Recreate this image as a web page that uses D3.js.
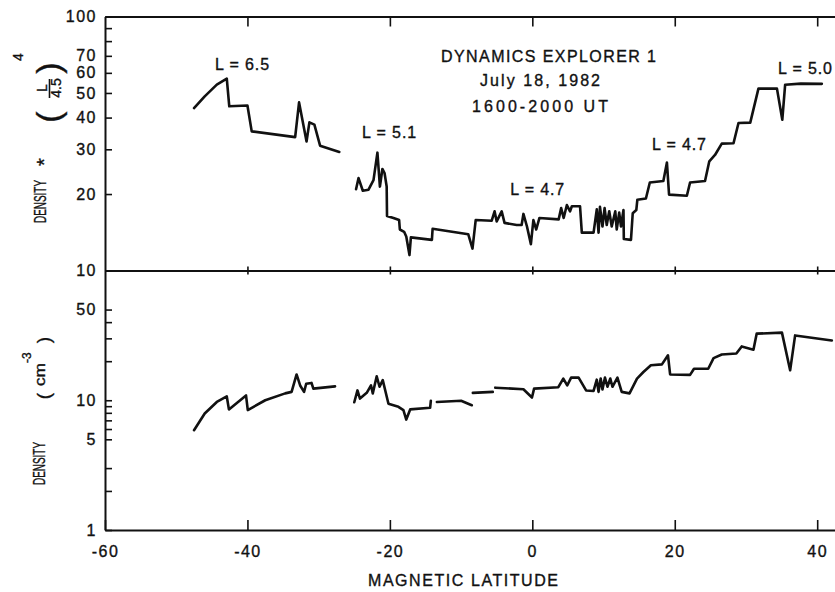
<!DOCTYPE html>
<meta charset="utf-8">
<style>
body { margin: 0; background: #fff; }
svg { font-family: "Liberation Sans", Arial, sans-serif; background: #fff; }
svg text { fill: #111; stroke: #111; stroke-width: 0.35px; }
.axis path, .axis line { stroke: #111; fill: none; }
.axis path { stroke-width: 2px; }
.axis line { stroke-width: 1.6px; }
.axis text { font-family: "Liberation Sans", Arial, sans-serif; font-size: 16px; letter-spacing: 1.5px; fill: #111; }
.trace { fill: none; stroke: #111; stroke-width: 2.6px; stroke-linejoin: round; stroke-linecap: round; }
.note { font-size: 16px; }
</style>
<body>
<script src="https://d3js.org/d3.v7.min.js"></script>
<script>

// magnetic latitude / normalised density (top panel); null = gap in trace
var topLat = [-47.5, -46.0, -44.3, -42.9, -42.55, -40.0, -39.4, -33.3, -32.75, -31.7, -31.3, -30.6, -29.8, -27.1,
  null,
  -24.75, -24.4, -23.8, -23.0, -22.3, -21.75, -21.4, -21.05, -20.75, -20.45, -20.4, -19.5, -18.7, -18.6, -18.0, -17.7,
  -17.25, -17.05, -14.1, -14.0, -9.0, -8.4, -7.95, -5.7, -5.3, -5.0, -4.3, -3.9, -2.2, -1.5, -1.25, -0.75, -0.2, 0.15,
  0.55, 1.0, 3.7, 4.05, 4.4, 4.85, 5.3, 5.55, 6.7, 6.95, 8.6, 9.05, 9.3, 9.5, 9.85, 10.15, 10.45, 10.8, 11.15, 11.65,
  11.85, 12.2, 12.45, 12.8, 12.85, 13.85, 14.1, 14.6, 14.75, 15.95, 16.5, 18.4, 18.9, 19.2, 21.7, 22.15, 24.25, 24.85,
  25.65, 26.6, 28.25, 28.95, 30.6, 31.75, 34.35, 35.1, 35.5, 37.7, 40.65];
var topDens = [43.6, 48.5, 53.9, 56.9, 44.3, 44.6, 35.3, 33.5, 45.9, 32.2, 38.3, 37.5, 31.0, 29.3,
  null,
  20.9, 23.1, 20.6, 20.8, 22.7, 29.1, 21.4, 25.1, 24.2, 21.4, 16.4, 16.1, 15.8, 14.5, 14.2, 13.6,
  11.5, 13.5, 13.2, 14.6, 13.9, 12.2, 15.8, 15.7, 17.1, 15.6, 17.1, 15.4, 15.1, 15.1, 16.7, 14.9, 12.7, 15.8,
  14.5, 16.1, 15.9, 17.6, 16.1, 18.1, 17.1, 17.9, 17.9, 14.1, 14.1, 17.4, 14.1, 17.8, 14.9, 17.6, 15.1, 17.1, 14.9, 17.1,
  14.5, 16.9, 14.9, 17.3, 13.3, 13.2, 16.8, 17.3, 19.0, 19.2, 22.2, 22.5, 26.6, 19.9, 19.7, 22.2, 22.5, 26.9,
  28.5, 31.6, 31.7, 38.1, 38.2, 52.0, 52.0, 39.2, 53.9, 54.4, 54.3];

// magnetic latitude / density in cm^-3 (bottom panel)
var botLat = [-47.5, -46.0, -44.3, -42.9, -42.6, -40.2, -39.95, -37.5, -34.7, -33.8, -33.1, -32.6, -32.05, -31.75,
  -31.0, -30.75, -27.7,
  null,
  -25.0, -24.55, -24.2, -23.25, -22.65, -22.4, -21.85, -21.45, -21.0, -20.2, -19.5, -18.8, -18.1, -17.7, -17.15,
  -14.35, -14.25,
  null,
  -13.4, -10.0, -8.5,
  null,
  -8.35, -5.55,
  null,
  -5.2, -1.25, -0.05, 0.25, 3.65, 4.35, 4.9, 5.45, 6.5, 7.55, 8.6, 9.05, 9.3, 9.6, 9.85, 10.2, 10.55, 10.95, 11.25,
  11.95, 12.55, 13.65, 14.7, 15.6, 16.65, 18.2, 19.05, 19.35, 22.15, 22.7, 24.7, 25.45, 26.6, 28.65, 29.4, 31.05,
  31.5, 35.05, 36.2, 36.9, 42.05];
var botDens = [5.88, 7.9, 9.7, 10.7, 8.5, 10.9, 8.4, 10.0, 11.3, 11.6, 15.8, 13.0, 11.6, 13.4,
  13.6, 12.3, 12.8,
  null,
  9.65, 11.9, 10.3, 11.4, 13.0, 11.3, 15.3, 12.7, 14.3, 9.4, 9.15, 8.9, 8.4, 7.1, 8.5,
  8.75, 9.9,
  null,
  9.7, 9.9, 9.15,
  null,
  11.4, 11.6,
  null,
  12.5, 12.15, 10.5, 12.3, 12.6, 14.7, 13.0, 14.95, 14.95, 11.9, 11.8, 14.4, 11.6, 14.7, 12.1, 14.95, 12.7, 14.7, 12.7,
  14.95, 11.6, 11.3, 14.7, 16.5, 18.6, 18.9, 22.2, 15.8, 15.7, 17.5, 17.5, 21.1, 22.5, 22.9, 26.0, 24.5,
  32.6, 33.2, 17.0, 31.6, 28.9];

var latTicks = [-60, -40, -20, 0, 20, 40];
var topTicks = [10, 20, 30, 40, 50, 60, 70, 80, 90, 100];
var topTickLabels = [10, 20, 30, 40, 50, 60, 70, 100];
var botTicks = [1, 2, 3, 5, 6, 7, 8, 9, 10, 20, 30, 40, 50];
var botTickLabels = [1, 5, 10, 50];

var titleLines = ["DYNAMICS EXPLORER 1", "July 18, 1982", "1600-2000 UT"];
var lLabels = [
  {text: "L = 6.5", lat: -44.55, val: 61.5},
  {text: "L = 5.1", lat: -23.9, val: 33.2},
  {text: "L = 4.7", lat: -3.1, val: 19.8},
  {text: "L = 4.7", lat: 16.8, val: 29.8},
  {text: "L = 5.0", lat: 34.5, val: 59.4}
];

var width = 835, height = 592;

var x = d3.scaleLinear().domain([-60, 42.5]).range([105, 835]);
var yTop = d3.scaleLog().domain([10, 100]).range([270.5, 16.5]);
var yBot = d3.scaleLog().domain([1, 100]).range([530, 270.5]);

var svg = d3.select("body").append("svg")
  .attr("width", width)
  .attr("height", height);

var fmtLat = function(d) { return d < 0 ? "-" + Math.abs(d) : String(d); };

// frame + ticks
svg.append("g").attr("class", "axis")
  .attr("transform", "translate(0," + yTop.range()[1] + ")")
  .call(d3.axisTop(x).tickValues(latTicks.slice(1)).tickSizeInner(-10).tickSizeOuter(0).tickFormat(""));

svg.append("g").attr("class", "axis")
  .attr("transform", "translate(0," + yTop.range()[0] + ")")
  .call(d3.axisBottom(x).tickValues(latTicks.slice(1)).tickSizeInner(4).tickSizeOuter(0).tickFormat(""));
svg.append("g").attr("class", "axis")
  .attr("transform", "translate(0," + yTop.range()[0] + ")")
  .call(d3.axisTop(x).tickValues(latTicks.slice(1)).tickSizeInner(4).tickSizeOuter(0).tickFormat(""));

svg.append("g").attr("class", "axis")
  .attr("transform", "translate(0," + yBot.range()[0] + ")")
  .call(d3.axisBottom(x).tickValues(latTicks).tickSizeInner(-10).tickSizeOuter(0).tickPadding(16).tickFormat(fmtLat));

svg.append("g").attr("class", "axis")
  .attr("transform", "translate(" + x.range()[0] + ",0)")
  .call(d3.axisLeft(yTop).tickValues(topTicks).tickSizeInner(-7).tickSizeOuter(0).tickPadding(8)
    .tickFormat(function(d) { return topTickLabels.indexOf(d) >= 0 ? d : ""; }));

svg.append("g").attr("class", "axis")
  .attr("transform", "translate(" + x.range()[0] + ",0)")
  .call(d3.axisLeft(yBot).tickValues(botTicks).tickSizeInner(-7).tickSizeOuter(0).tickPadding(8)
    .tickFormat(function(d) { return botTickLabels.indexOf(d) >= 0 ? d : ""; }));

// traces
var topPts = topLat.map(function(d, i) { return [d, topDens[i]]; });
var botPts = botLat.map(function(d, i) { return [d, botDens[i]]; });

var lineTop = d3.line()
  .defined(function(d) { return d[0] != null && d[1] != null; })
  .x(function(d) { return x(d[0]); })
  .y(function(d) { return yTop(d[1]); });

var lineBot = d3.line()
  .defined(function(d) { return d[0] != null && d[1] != null; })
  .x(function(d) { return x(d[0]); })
  .y(function(d) { return yBot(d[1]); });

svg.append("path").attr("class", "trace").attr("d", lineTop(topPts));
svg.append("path").attr("class", "trace").attr("d", lineBot(botPts));

// annotations
var titleX = [441, 480, 472], titleY = [62, 86, 112], titleW = [215, 120, 136];
titleLines.forEach(function(t, i) {
  svg.append("text").attr("class", "note")
    .attr("x", titleX[i]).attr("y", titleY[i])
    .attr("textLength", titleW[i]).attr("lengthAdjust", "spacing")
    .text(t);
});

lLabels.forEach(function(d) {
  svg.append("text").attr("class", "note")
    .attr("x", x(d.lat)).attr("y", yTop(d.val))
    .attr("textLength", 54).attr("lengthAdjust", "spacing")
    .text(d.text);
});

svg.append("text").attr("class", "note")
  .attr("x", 368).attr("y", 586)
  .attr("textLength", 190).attr("lengthAdjust", "spacing")
  .text("MAGNETIC LATITUDE");

// rotated y titles
function vtext(px, py, str, size, anchor) {
  return svg.append("text")
    .attr("transform", "translate(" + px + "," + py + ") rotate(-90)")
    .attr("text-anchor", anchor || "middle")
    .style("font-size", size + "px")
    .text(str);
}

vtext(46, 223, "DENSITY", 16, "start").attr("textLength", 43).attr("lengthAdjust", "spacingAndGlyphs");
vtext(51, 162, "*", 20);
vtext(60, 117, "(", 34);
vtext(47, 88, "L", 14);
svg.append("line").attr("x1", 49.5).attr("x2", 49.5).attr("y1", 79).attr("y2", 98)
  .attr("stroke", "#111").attr("stroke-width", 1.6);
vtext(61, 88, "4.5", 14);
vtext(60, 68, ")", 34);
vtext(23, 57, "4", 14);

vtext(45, 485, "DENSITY", 16, "start").attr("textLength", 43).attr("lengthAdjust", "spacingAndGlyphs");
vtext(50, 396, "(", 19);
vtext(45, 386, "cm", 15, "start").attr("textLength", 23).attr("lengthAdjust", "spacingAndGlyphs");
vtext(31, 363, "-3", 12, "start");
vtext(50, 340, ")", 19);

</script>
